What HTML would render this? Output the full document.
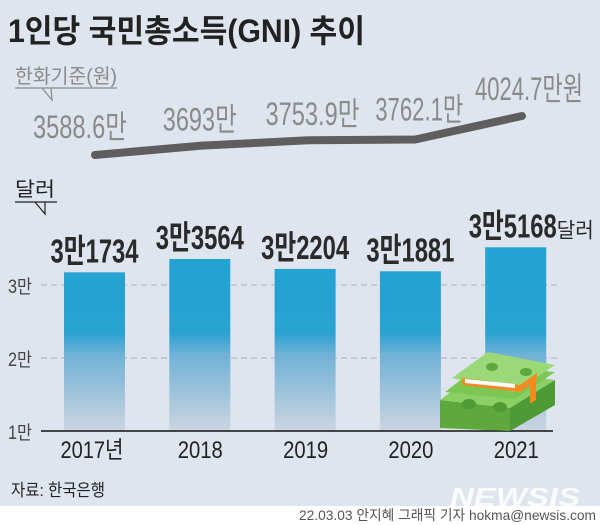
<!DOCTYPE html>
<html><head><meta charset="utf-8"><style>
body{margin:0;width:600px;height:525px;overflow:hidden;background:#dfe5ef;font-family:"Liberation Sans","Noto Sans CJK KR",sans-serif}
svg{display:block}
</style></head><body>
<svg width="600" height="525" viewBox="0 0 600 525" font-family="Liberation Sans, Noto Sans CJK KR, sans-serif">
<defs>
<linearGradient id="bg" gradientUnits="userSpaceOnUse" x1="0" y1="248" x2="0" y2="431">
<stop offset="0" stop-color="#22a3d3"/><stop offset="0.46" stop-color="#28a2d1"/><stop offset="0.58" stop-color="#6fb1d6"/><stop offset="1" stop-color="#cbd5e0"/>
</linearGradient>
</defs>
<rect x="0" y="0" width="600" height="506" fill="#dfe5ef"/>
<rect x="0" y="506" width="600" height="19" fill="#ffffff"/>
<text x="8" y="42" font-size="32" fill="#222" textLength="357" lengthAdjust="spacingAndGlyphs" style="font-weight:bold">1인당 국민총소득(GNI) 추이</text>
<text x="15" y="83" font-size="20" fill="#8a8a8a" textLength="102" lengthAdjust="spacingAndGlyphs">한화기준(원)</text>
<path d="M15 88 H117 M42 88 L52 100 L51 88" stroke="#8a8a8a" stroke-width="1.2" fill="none"/>
<text x="15" y="196" font-size="20" fill="#222" textLength="40" lengthAdjust="spacingAndGlyphs">달러</text>
<path d="M15 202 H57 M35 202 L45 214 L45 202" stroke="#222" stroke-width="1.2" fill="none"/>
<g id="line"></g>
<g id="grid"></g>
<g id="bars"></g>
<g>
<polygon points="440,400 510,408 510,431 440,428" fill="#5ea83e"/>
<polygon points="510,408 555,380 555,405 510,431" fill="#4e9a34"/>
<polygon points="440,400 478,372 555,380 510,408" fill="#8bd064"/>
<polygon points="445,392 515,399 555,372 480,365" fill="#7cc653"/>
<polygon points="452,378 488,352 555,365 515,392" fill="#9bd878"/>
<polygon points="462,378 520,385 520,392 462,385" fill="#f58a1f"/>
<polygon points="465,379 515,384 515,388 465,383" fill="#fff"/>
<polygon points="520,385 537,373 537,380 520,392" fill="#f58a1f"/>
<polygon points="530,385 536,381 536,400 530,404" fill="#f58a1f"/>
<ellipse cx="469" cy="404" rx="7" ry="5" fill="#4e9a34"/><ellipse cx="500" cy="407" rx="7" ry="5" fill="#4e9a34"/>
<ellipse cx="492" cy="367" rx="6" ry="4" fill="#5ea83e"/><ellipse cx="526" cy="372" rx="6" ry="4" fill="#5ea83e"/>
</g>
<text x="299" y="520" font-size="14" fill="#555" textLength="297" lengthAdjust="spacingAndGlyphs">22.03.03 안지혜 그래픽 기자 hokma@newsis.com</text>
<text x="450" y="506" font-size="26" font-weight="bold" font-style="italic" fill="#ffffff" opacity="0.85" textLength="130" lengthAdjust="spacingAndGlyphs">NEWSIS</text>
<text x="11" y="496" font-size="17" fill="#222" textLength="94" lengthAdjust="spacingAndGlyphs">자료: 한국은행</text>
</svg>
<script>
const years=["2017년","2018","2019","2020","2021"];
const usdValues=[31734,33564,32204,31881,35168];
const usdLabels=["3만1734","3만3564","3만2204","3만1881","3만5168"];
const krwValues=[3588.6,3693,3753.9,3762.1,4024.7];
const krwLabels=["3588.6만","3693만","3753.9만","3762.1만","4024.7만원"];
const yTicks=[10000,20000,30000];
const yTickLabels=["1만","2만","3만"];
const NS="http://www.w3.org/2000/svg";
function mk(t,a,p){const e=document.createElementNS(NS,t);for(const k in a)e.setAttribute(k,a[k]);p.appendChild(e);return e;}
const yB=v=>431-(v-10000)*0.0073;
const xB=i=>64+i*105.3;
const bw=61;
const yL=v=>155-(v-3588.6)*0.0894;
const xL=i=>95+i*106.75;
const grid=document.getElementById('grid');
yTicks.forEach((t,i)=>{
 if(i>0){const l=mk('line',{x1:41,x2:560,y1:yB(t),y2:yB(t),stroke:'#aab0b8','stroke-width':1,'stroke-dasharray':'6 4'},grid);
 
 }
 const tx=mk('text',{x:8,y:yB(t)+8,'font-size':19,fill:'#444',textLength:24,lengthAdjust:'spacingAndGlyphs'},grid);
 tx.textContent=yTickLabels[i];
 
 
});
const bars=document.getElementById('bars');
usdValues.forEach((v,i)=>{
 const r=mk('rect',{x:xB(i),y:yB(v),width:bw,height:431-yB(v),fill:'url(#bg)'},bars);
 
 
 const cx=xB(i)+bw/2+(i==4?-3:0);
 const t=mk('text',{x:cx-44,y:yB(v)-10,'font-size':33,'font-weight':'bold',fill:'#2a2a2a',textLength:88,lengthAdjust:'spacingAndGlyphs'},bars);
 t.textContent=usdLabels[i];
 
 
 if(i==4){const s=mk('text',{x:cx+44,y:yB(v)-10,'font-size':21,fill:'#2a2a2a',textLength:37,lengthAdjust:'spacingAndGlyphs'},bars);s.textContent='달러';
 
 }
 const w=i==0?63:45;
 const xl=mk('text',{x:xB(i)+bw/2-(i==0?34:22),y:458,'font-size':24,fill:'#222',textLength:w,lengthAdjust:'spacingAndGlyphs'},bars);
 xl.textContent=years[i];
 
 
});
const ax=mk('line',{x1:41,x2:553,y1:431,y2:431,stroke:'#111','stroke-width':1.5},bars);


const lg=document.getElementById('line');
const pts=krwValues.map((v,i)=>xL(i)+','+yL(v)).join(' ');
const pl=mk('polyline',{points:pts,fill:'none',stroke:'#5e5e5e','stroke-width':8,'stroke-linecap':'round','stroke-linejoin':'round'},lg);


const lw=[94,74,94,88,108];
const lx=[-62,-39,-43,-40,-47];
const ly=[17,15,15,19,16];
krwValues.forEach((v,i)=>{
 const t=mk('text',{x:xL(i)+lx[i],y:yL(v)-ly[i],'font-size':32,fill:'#8a8a8a',textLength:lw[i],lengthAdjust:'spacingAndGlyphs'},lg);
 t.textContent=krwLabels[i];
 
 
});
</script>
</body></html>
